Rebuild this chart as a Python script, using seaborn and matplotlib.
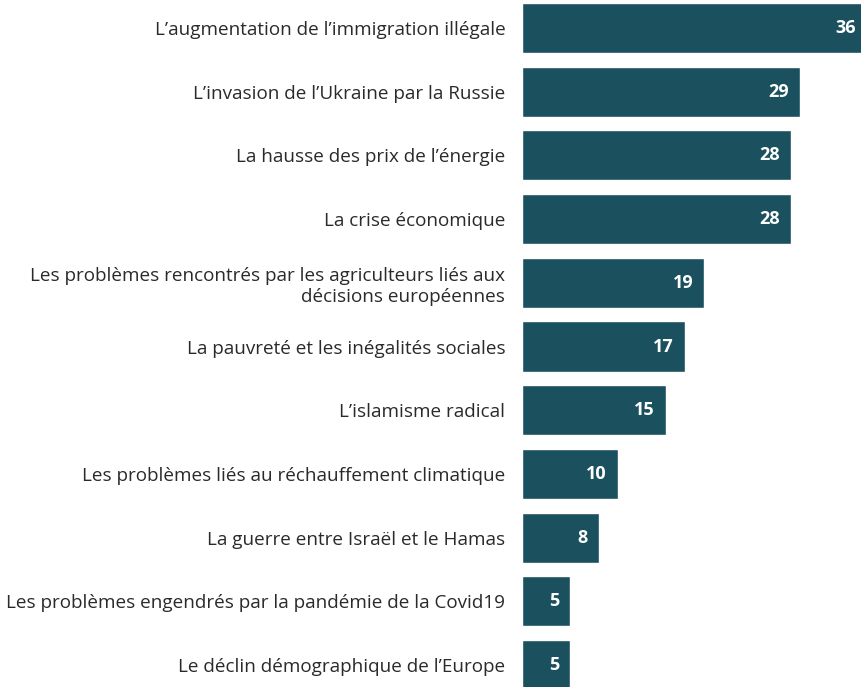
import matplotlib
matplotlib.use("Agg")
import matplotlib.pyplot as plt
import seaborn as sns
import pandas as pd

categories = [
    "L’augmentation de l’immigration illégale",
    "L’invasion de l’Ukraine par la Russie",
    "La hausse des prix de l’énergie",
    "La crise économique",
    "Les problèmes rencontrés par les agriculteurs liés aux\ndécisions européennes",
    "La pauvreté et les inégalités sociales",
    "L’islamisme radical",
    "Les problèmes liés au réchauffement climatique",
    "La guerre entre Israël et le Hamas",
    "Les problèmes engendrés par la pandémie de la Covid19",
    "Le déclin démographique de l’Europe",
]
values = [36, 29, 28, 28, 19, 17, 15, 10, 8, 5, 5]

df = pd.DataFrame({"cat": categories, "val": values})

sns.set_theme(style="white")
plt.rcParams["font.family"] = ["Open Sans", "DejaVu Sans"]

W, H = 861, 687
fig = plt.figure(figsize=(W / 100, H / 100), dpi=100)
left = 522 / W
ax = fig.add_axes([left, 0.0, 1.0 - left, 1.0])

bar_color = "#1b505f"
sns.barplot(data=df, x="val", y="cat", orient="h", color=bar_color,
            width=0.785, saturation=1, ax=ax)

px_per_unit = 9.6
ax.set_xlim(0, (W - 522) / px_per_unit)
pitch = 63.7
ax.set_ylim(10 + (H - 665) / pitch, -28 / pitch)

for p, v in zip(ax.patches, values):
    p.set_clip_on(False)
    ax.annotate(str(v), xy=(v, p.get_y() + p.get_height() / 2),
                xytext=(-8, 0), textcoords="offset points",
                ha="right", va="center", color="white",
                fontsize=13, fontweight="bold", annotation_clip=False)

ax.set_xlabel("")
ax.set_ylabel("")
ax.set_xticks([])
ax.tick_params(axis="y", length=0, pad=12, labelsize=13.6, labelcolor="#2a2a2a")
for lbl in ax.get_yticklabels():
    lbl.set_multialignment("right")
    lbl.set_linespacing(1.25)
for s in ax.spines.values():
    s.set_visible(False)

fig.savefig("out.png", dpi=100)
